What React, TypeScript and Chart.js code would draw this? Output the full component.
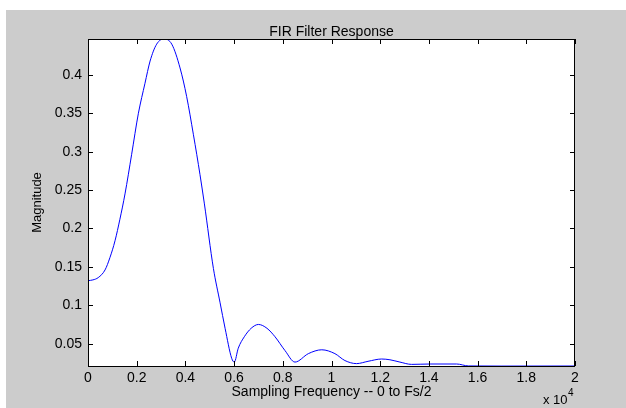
import { useEffect, useRef } from 'react';
import { Chart, registerables } from 'chart.js';

Chart.register(...registerables);

const FONT = '"Liberation Sans", Arial, Helvetica, sans-serif';

// Frequency (Hz) and magnitude
const freqHz = [
  0, 200, 420, 700, 900, 1110, 1310, 1520, 1790, 2070, 2340, 2550, 2820,
  3120, 3440, 3780, 4050, 4330, 4600, 4780, 5150, 5420, 5630, 5900, 6010,
  6170, 6420, 6700, 7000, 7350, 7680, 8090, 8500, 9050, 9600, 10140, 10550,
  11030, 11500, 12060, 12400, 12810, 13290, 14050, 15140, 15620, 17000, 20000,
];
const magnitude = [
  0.132, 0.133, 0.136, 0.146, 0.162, 0.184, 0.212, 0.245, 0.296, 0.35,
  0.389, 0.418, 0.44, 0.447, 0.44, 0.409, 0.372, 0.322, 0.27, 0.232,
  0.148, 0.104, 0.07, 0.031, 0.026, 0.044, 0.059, 0.07, 0.075, 0.07, 0.059,
  0.041, 0.026, 0.037, 0.042, 0.037, 0.028, 0.024, 0.027, 0.03, 0.029, 0.026,
  0.023, 0.0235, 0.0235, 0.021, 0.0208, 0.0209,
];

const xTickValues = [0, 2000, 4000, 6000, 8000, 10000, 12000, 14000, 16000, 18000, 20000];
const yTickValues = [0.05, 0.1, 0.15, 0.2, 0.25, 0.3, 0.35, 0.4];

const X_MIN = 0;
const X_MAX = 20000;
const Y_MIN = 0.0209;
const Y_MAX = 0.4467;

const titleText = 'FIR Filter Response';
const xLabelText = 'Sampling Frequency -- 0 to Fs/2';
const yLabelText = 'Magnitude';

const matlabPlugin = {
  id: 'matlabFrame',
  beforeDraw(chart: any) {
    const { ctx, width, height, chartArea: a } = chart;
    ctx.save();
    ctx.fillStyle = '#ffffff';
    ctx.fillRect(0, 0, width, height);
    ctx.fillStyle = '#cccccc';
    ctx.fillRect(6, 10, width - 6, height - 10);
    ctx.fillStyle = '#ffffff';
    ctx.fillRect(a.left, a.top, a.right - a.left, a.bottom - a.top);
    ctx.restore();
  },
  afterDraw(chart: any) {
    const { ctx, chartArea: a } = chart;
    const xs = chart.scales.x;
    const ys = chart.scales.y;
    ctx.save();
    ctx.strokeStyle = '#000000';
    ctx.lineWidth = 1;
    ctx.strokeRect(a.left + 0.5, a.top + 0.5, a.right - a.left - 1, a.bottom - a.top);
    ctx.beginPath();
    const tl = 5;
    xTickValues.forEach((v) => {
      const px = Math.round(xs.getPixelForValue(v)) + 0.5;
      ctx.moveTo(px, a.bottom);
      ctx.lineTo(px, a.bottom - tl);
      ctx.moveTo(px, a.top);
      ctx.lineTo(px, a.top + tl);
    });
    yTickValues.forEach((v) => {
      const py = Math.round(ys.getPixelForValue(v)) + 0.5;
      ctx.moveTo(a.left, py);
      ctx.lineTo(a.left + tl, py);
      ctx.moveTo(a.right, py);
      ctx.lineTo(a.right - tl, py);
    });
    ctx.stroke();

    ctx.fillStyle = '#000000';
    const cx = (a.left + a.right) / 2;
    ctx.font = `14px ${FONT}`;
    ctx.textAlign = 'center';
    ctx.textBaseline = 'alphabetic';
    ctx.fillText(titleText, cx, 36);
    ctx.textBaseline = 'middle';
    ctx.fillText(xLabelText, cx, 392);

    ctx.textAlign = 'left';
    ctx.textBaseline = 'alphabetic';
    ctx.font = `13px ${FONT}`;
    ctx.fillText('x 10', 543, 404);
    ctx.font = `10px ${FONT}`;
    ctx.fillText('4', 568, 396);

    ctx.save();
    ctx.translate(37, (a.top + a.bottom) / 2);
    ctx.rotate(-Math.PI / 2);
    ctx.font = `13px ${FONT}`;
    ctx.textAlign = 'center';
    ctx.textBaseline = 'middle';
    ctx.fillText(yLabelText, 0, 0);
    ctx.restore();
    ctx.restore();
  },
};

export default function App() {
  const ref = useRef<HTMLCanvasElement | null>(null);
  useEffect(() => {
    document.body.style.margin = '0';
    const canvas = ref.current;
    if (!canvas) return;
    const chart = new Chart(canvas, {
      type: 'line',
      data: {
        datasets: [
          {
            data: freqHz.map((f, i) => ({ x: f, y: magnitude[i] })),
            borderColor: '#0000ff',
            borderWidth: 1,
            pointRadius: 0,
            fill: false,
            cubicInterpolationMode: 'monotone',
          },
        ],
      },
      options: {
        animation: false,
        responsive: false,
        events: [],
        layout: { padding: { left: 0, right: 51, top: 39, bottom: 0 } },
        plugins: {
          legend: { display: false },
          title: { display: false },
          tooltip: { enabled: false },
        },
        scales: {
          x: {
            type: 'linear',
            min: X_MIN,
            max: X_MAX,
            grid: { display: false, drawTicks: false },
            border: { display: false },
            afterBuildTicks: (scale: any) => {
              scale.ticks = xTickValues.map((v) => ({ value: v }));
            },
            afterFit: (scale: any) => {
              scale.height = 42;
            },
            ticks: {
              autoSkip: false,
              maxRotation: 0,
              padding: 4,
              color: '#000000',
              font: { family: FONT, size: 14 },
              callback: (v: any) => String(+(Number(v) / 10000).toFixed(1)),
            },
          },
          y: {
            type: 'linear',
            min: Y_MIN,
            max: Y_MAX,
            grid: { display: false, drawTicks: false },
            border: { display: false },
            afterBuildTicks: (scale: any) => {
              scale.ticks = yTickValues.map((v) => ({ value: v }));
            },
            afterFit: (scale: any) => {
              scale.width = 88;
            },
            ticks: {
              autoSkip: false,
              padding: 6,
              color: '#000000',
              font: { family: FONT, size: 14 },
              callback: (v: any) => String(+Number(v).toFixed(2)),
            },
          },
        },
      },
      plugins: [matlabPlugin],
    } as any);
    return () => chart.destroy();
  }, []);
  return (
    <div style={{ position: 'fixed', left: 0, top: 0, width: 626, height: 408 }}>
      <canvas ref={ref} width={626} height={408} style={{ display: 'block' }} />
    </div>
  );
}
